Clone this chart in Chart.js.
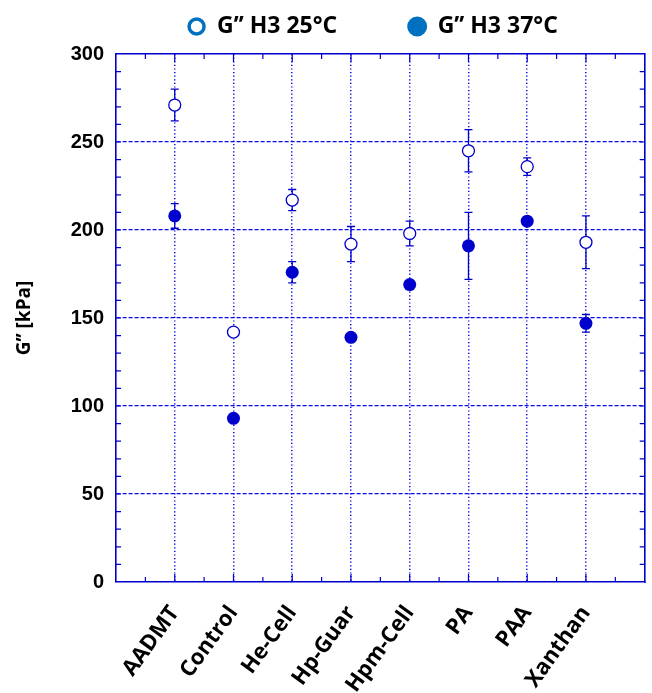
<!DOCTYPE html>
<html>
<head>
<meta charset="utf-8">
<script src="https://cdn.jsdelivr.net/npm/chart.js@4.4.1/dist/chart.umd.min.js"></script>
<style>
  html, body { margin: 0; padding: 0; background: #fff; }
</style>
</head>
<body>
<canvas id="grafica" width="652" height="693"></canvas>
<script>
//Образцы и значения G'' (кПа)
const samples = ['AADMT', 'Control', 'He-Cell', 'Hp-Guar', 'Hpm-Cell', 'PA', 'PAA', 'Xanthan'];
const g25 = [271, 142, 217, 192, 198, 245, 236, 193];
const g25err = [9, 2, 6, 10, 7, 12, 5, 15];
const g37 = [208, 93, 176, 139, 169, 191, 205, 147];
const g37err = [7, 2, 6, 2, 2, 19, 2, 5];
const seriesNames = ['G\u2019\u2019 H3 25°C', 'G\u2019\u2019 H3 37°C'];

const blue = '#0000cc';
const gridBlue = '#0a0ae6';
const legendBlue = '#0070c0';

//Планки погрешностей
const errorBars = {
  id: 'errorBars',
  beforeDatasetsDraw(chart) {
    const {ctx, scales: {x, y}} = chart;
    ctx.save();
    ctx.strokeStyle = blue;
    ctx.lineWidth = 1.3;
    [[g25, g25err], [g37, g37err]].forEach(([vals, errs]) => {
      vals.forEach((v, i) => {
        const px = x.getPixelForValue(i + 1);
        const top = y.getPixelForValue(v + errs[i]);
        const bot = y.getPixelForValue(v - errs[i]);
        ctx.beginPath();
        ctx.moveTo(px, top); ctx.lineTo(px, bot);
        ctx.moveTo(px - 4, top); ctx.lineTo(px + 4, top);
        ctx.moveTo(px - 4, bot); ctx.lineTo(px + 4, bot);
        ctx.stroke();
      });
    });
    ctx.restore();
  }
};

//Внутренние засечки на всех четырёх сторонах
const innerTicks = {
  id: 'innerTicks',
  beforeDatasetsDraw(chart) {
    const {ctx, chartArea: a, scales: {x, y}} = chart;
    ctx.save();
    ctx.strokeStyle = blue;
    ctx.lineWidth = 1.2;
    ctx.beginPath();
    for (let v = y.min + 10; v < y.max; v += 10) {
      const py = y.getPixelForValue(v);
      ctx.moveTo(a.left, py); ctx.lineTo(a.left + 5, py);
      ctx.moveTo(a.right, py); ctx.lineTo(a.right - 5, py);
    }
    for (let v = x.min + 0.5; v < x.max; v += 0.5) {
      const px = x.getPixelForValue(v);
      const len = Number.isInteger(v) ? 8 : 5;
      ctx.moveTo(px, a.bottom); ctx.lineTo(px, a.bottom - len);
      ctx.moveTo(px, a.top); ctx.lineTo(px, a.top + len);
    }
    ctx.stroke();
    ctx.restore();
  }
};

//Без боковых отступов от повёрнутых подписей
const fitX = (s, h) => { s.height = h; s.paddingLeft = 0; s.paddingRight = 0; };

const grafica = document.getElementById('grafica');

const myChart = new Chart(grafica, {
  type: 'scatter',
  data: {
    datasets: [
      {
        label: seriesNames[0],
        data: g25.map((v, i) => ({x: i + 1, y: v})),
        pointRadius: 6,
        pointBackgroundColor: '#ffffff',
        pointBorderColor: blue,
        pointBorderWidth: 1.3,
      },
      {
        label: seriesNames[1],
        data: g37.map((v, i) => ({x: i + 1, y: v})),
        pointRadius: 6.5,
        pointBackgroundColor: blue,
        pointBorderColor: blue,
        pointBorderWidth: 0,
      }
    ]
  },
  options: {
    responsive: false,
    animation: false,
    layout: { padding: { top: 2, right: 6, left: 0, bottom: 0 } },
    plugins: {
      tooltip: { enabled: false },
      legend: {
        position: 'top',
        fullSize: false,
        labels: {
          usePointStyle: true,
          boxWidth: 18,
          boxHeight: 10.6,
          padding: 13,
          color: '#000',
          font: { family: 'Open Sans', weight: 'bold', size: 23 },
          generateLabels: () => [
            { text: seriesNames[0] + '\u2003\u2003  ', fillStyle: '#ffffff', strokeStyle: legendBlue,
              lineWidth: 3.5, pointStyle: 'circle', datasetIndex: 0, hidden: false },
            { text: seriesNames[1] + '\u2002\u2009', fillStyle: legendBlue, strokeStyle: legendBlue,
              lineWidth: 5, pointStyle: 'circle', datasetIndex: 1, hidden: false }
          ]
        }
      }
    },
    scales: {
      x: {
        type: 'linear',
        position: 'bottom',
        min: 0,
        max: 9,
        afterFit: (s) => fitX(s, 111),
        ticks: {
          stepSize: 1,
          autoSkip: false,
          minRotation: 54,
          maxRotation: 54,
          padding: 19,
          color: '#000',
          font: { family: 'Open Sans', weight: 'bold', size: 22 },
          callback: (v) => samples[v - 1] || ''
        },
        grid: {
          drawTicks: false,
          lineWidth: 1.5,
          color: (c) => (c.tick && (c.tick.value === 0 || c.tick.value === 9)) ? 'rgba(0,0,0,0)' : gridBlue
        },
        border: { color: blue, width: 1.6, dash: [1.2, 2.4] }
      },
      x2: {
        type: 'linear',
        position: 'top',
        min: 0,
        max: 9,
        afterFit: (s) => fitX(s, 6),
        ticks: { display: false },
        grid: { drawOnChartArea: false, drawTicks: false },
        border: { color: blue, width: 1.6 }
      },
      y: {
        min: 0,
        max: 300,
        afterFit: (s) => { s.width = 116; },
        ticks: {
          stepSize: 50,
          padding: 12,
          color: '#000',
          font: { family: 'Liberation Sans', weight: 'bold', size: 20 }
        },
        title: {
          display: true,
          text: 'G\u2019\u2019 [kPa]',
          color: '#000',
          padding: { top: 13, bottom: 0 },
          font: { family: 'Open Sans', weight: 'bold', size: 19 }
        },
        grid: {
          drawTicks: false,
          lineWidth: 1.3,
          color: (c) => (c.tick && (c.tick.value === 0 || c.tick.value === 300)) ? 'rgba(0,0,0,0)' : gridBlue
        },
        border: { color: blue, width: 1.6, dash: [4, 2] }
      },
      y2: {
        position: 'right',
        min: 0,
        max: 300,
        afterFit: (s) => { s.width = 0; },
        ticks: { display: false },
        grid: { drawOnChartArea: false, drawTicks: false },
        border: { color: blue, width: 1.6 }
      }
    }
  },
  plugins: [innerTicks, errorBars]
});
</script>
</body>
</html>
